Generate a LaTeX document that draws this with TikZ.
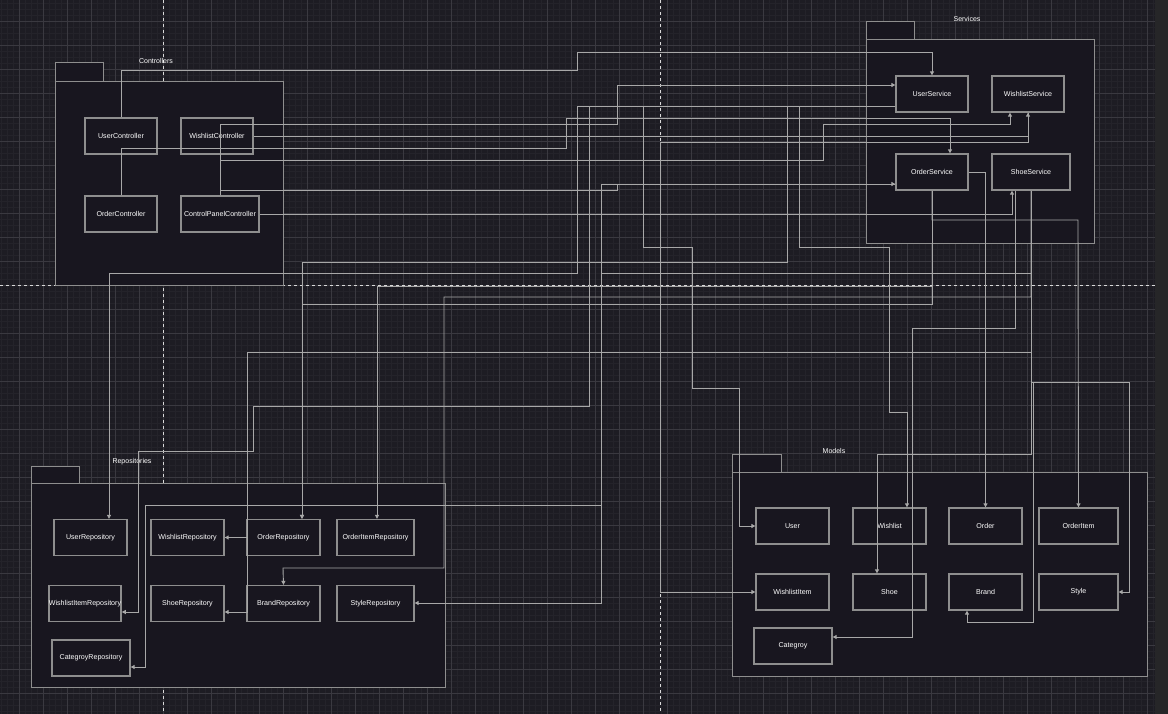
\documentclass[tikz,border=0pt]{standalone}
\usepackage{fontspec}
\setsansfont{Liberation Sans}
\usetikzlibrary{arrows.meta}

\definecolor{canvas}{HTML}{1D1C23}
\definecolor{panel}{HTML}{18161F}
\definecolor{gridmajor}{HTML}{3A3940}
\definecolor{gridminor}{HTML}{24232A}
\definecolor{edgegray}{HTML}{A8A8A8}
\definecolor{boxgray}{HTML}{8E8E8E}
\definecolor{scrollbar}{HTML}{262628}

\begin{document}
\begin{tikzpicture}[x = 1pt, y = -1pt, font = \sffamily,
		cls/.style = {draw = boxgray, fill = panel, line width = 1.3pt, minimum width = #1,
			minimum height = 36pt, inner sep = 0pt, text = white, font = \sffamily\fontsize{7.1}{8}\selectfont},
		cls/.default = 73pt,
		pkg/.style = {draw = boxgray, fill = panel, line width = 1pt},
		pkglabel/.style = {text = white, inner sep = 0pt, font = \sffamily\fontsize{7}{8}\selectfont},
		conn/.style = {draw = edgegray, line width = 0.9pt, -{Triangle[length = 4pt, width = 4pt]}},
		sep/.style = {draw = white!85!black, line width = 1pt, dash pattern = on 3pt off 3pt}]
		\def\mylinewidth{0.6pt}
		%--------------------

		\useasboundingbox (0,0) rectangle (1168,714);
		\fill[canvas] (0,0) rectangle (1155,714);
		\fill[scrollbar] (1155,0) rectangle (1168,714);

		\foreach \gx in {1,7,...,1155} \draw[gridminor, line width = \mylinewidth] (\gx,0) -- (\gx,714);
		\foreach \gy in {3,9,...,714} \draw[gridminor, line width = \mylinewidth] (0,\gy) -- (1155,\gy);
		\foreach \gx in {19,43,...,1155} \draw[gridmajor, line width = \mylinewidth] (\gx,0) -- (\gx,714);
		\foreach \gy in {21,45,...,714} \draw[gridmajor, line width = \mylinewidth] (0,\gy) -- (1155,\gy);

		\draw[sep] (163,0) -- (163,714);
		\draw[sep] (660,0) -- (660,714);
		\draw[sep] (0,286) -- (1155,286);

		%--------------------
		\draw[pkg] (55,63) rectangle (103,82);
		\draw[pkg] (55,82) rectangle (283,286);
		\node[pkglabel] (ctrlLabel) at (156,61) {Controllers};

		\node[cls = 72pt] (UC) at (121,136) {UserController};
		\node[cls = 72pt] (WC) at (217,136) {WishlistController};
		\node[cls = 72pt] (OC) at (121,214) {OrderController};
		\node[cls = 78pt] (CPC) at (220,214) {ControlPanelController};

		%--------------------
		\draw[pkg] (866,22) rectangle (914,40);
		\draw[pkg] (866,40) rectangle (1094,244);
		\node[pkglabel] (servLabel) at (967,19) {Services};

		\node[cls = 72pt] (US) at (932,94) {UserService};
		\node[cls = 72pt] (WS) at (1028,94) {WishlistService};
		\node[cls = 72pt] (OS) at (932,172) {OrderService};
		\node[cls = 78pt] (SS) at (1031,172) {ShoeService};

		%--------------------
		\draw[pkg] (31,466) rectangle (79,483);
		\draw[pkg] (31,483) rectangle (445,687);
		\node[pkglabel] (repoLabel) at (132,462) {Repositories};

		\node[cls] (UR) at (90.5,537.5) {UserRepository};
		\node[cls] (WR) at (187.5,537.5) {WishlistRepository};
		\node[cls] (OR) at (283.5,537.5) {OrderRepository};
		\node[cls = 77pt] (OIR) at (375.5,537.5) {OrderItemRepository};
		\node[cls = 72pt] (WIR) at (85,603.5) {WishlistItemRepository};
		\node[cls] (SR) at (187.5,603.5) {ShoeRepository};
		\node[cls] (BR) at (283.5,603.5) {BrandRepository};
		\node[cls = 77pt] (StR) at (375.5,603.5) {StyleRepository};
		\node[cls = 78pt] (CR) at (91,658) {CategroyRepository};

		%--------------------
		\draw[pkg] (732,454) rectangle (781,472);
		\draw[pkg] (732,472) rectangle (1147,676);
		\node[pkglabel] (modelLabel) at (834,451) {Models};

		\node[cls] (Us) at (792.5,526) {User};
		\node[cls] (Wl) at (889.5,526) {Wishlist};
		\node[cls] (Or) at (985.5,526) {Order};
		\node[cls = 79pt] (OI) at (1078.5,526) {OrderItem};
		\node[cls] (WIt) at (792.5,592) {WishlistItem};
		\node[cls] (Sh) at (889.5,592) {Shoe};
		\node[cls] (Br) at (985.5,592) {Brand};
		\node[cls = 79pt] (St) at (1078.5,592) {Style};
		\node[cls = 78pt] (Cat) at (793,646) {Categroy};

		%--------------------
		% controllers to services
		\draw[conn] (UC.north) |- (577,70) |- (932,52) -- (US.north);
		\draw[conn] (CPC.north) |- (617,124) |- (US.west |- 0,85);
		\draw[conn] (CPC.north) |- (617,190) |- (OS.west |- 0,184);
		\draw[conn] (CPC.north) |- (823,160) |- (1010,124) -- (WS.south -| 1010,0);
		\draw[conn] (WC.east) -| (WS.south);
		\draw[conn] (OC.north) |- (566,148) |- (950,118) -- (OS.north -| 950,0);
		\draw[conn] (CPC.east) -| (SS.south -| 1012,0);
		\draw[conn] (WS.south) |- (660,142) |- (WIt.west);

		%--------------------
		% services to repositories and models
		\draw[conn] (US.west |- 0,106) -| (577,273) -| (UR.north -| 109,0);
		\draw[conn] (US.west |- 0,106) -| (589,406) -| (253,451) -| (138,612) -- (WIR.east |- 0,612);
		\draw[conn] (US.west |- 0,106) -| (787,262) -| (OR.north -| 302,0);
		\draw[conn] (US.west |- 0,106) -| (643,247) -| (692,388) -| (739,526) -- (Us.west);
		\draw[conn] (US.west |- 0,106) -| (799,247) -| (889,412) -| (Wl.north -| 907,0);

		\draw[conn] (OS.south) |- (302,304) -- (OR.north -| 302,0);
		\draw[conn] (OS.south) |- (377,286) -- (OIR.north -| 377,0);
		\draw[conn] (OS.south) |- (1078,220) -- (OI.north);
		\draw[conn] (OS.east) -| (Or.north);
		\draw[conn] (OS.west |- 0,184) -| (601,505) -| (145,667) -- (CR.east |- 0,667);

		\draw[conn] (SS.south) |- (601,273) |- (StR.east |- 0,603);
		\draw[conn] (SS.south) |- (444,297) |- (283,568) -- (BR.north);
		\draw[conn] (SS.south) |- (247,352) |- (SR.east |- 0,612);
		\draw[conn] (SS.south) |- (247,352) |- (WR.east);
		\draw[conn] (SS.south) |- (1129,382) |- (St.east);
		\draw[conn] (SS.south) -- (1031,382) -- (1033,382) |- (967,622) -- (Br.south -| 967,0);
		\draw[conn] (SS.south) |- (877,454) -- (Sh.north -| 877,0);
		\draw[conn] (SS.south -| 1015,0) |- (912,328) |- (Cat.east |- 0,637);
\end{tikzpicture}
\end{document}
